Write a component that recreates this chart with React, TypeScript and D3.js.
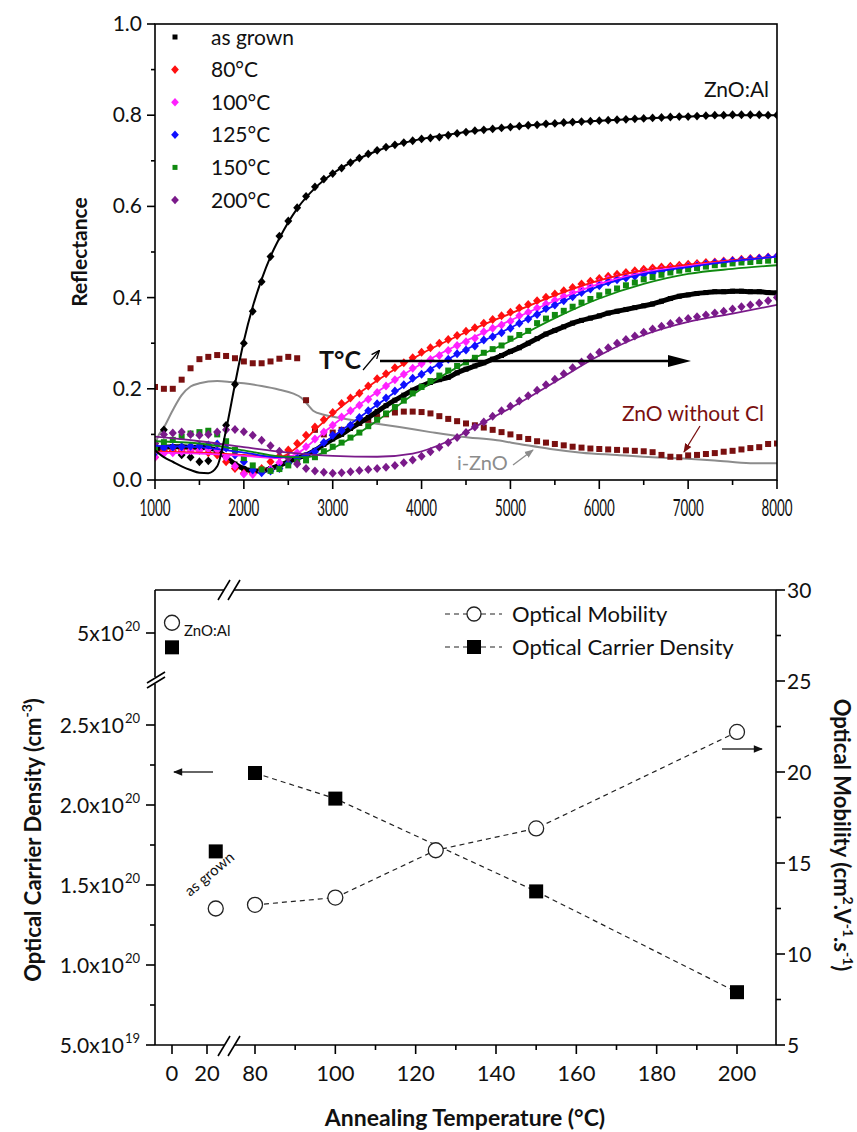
import React from 'react';
import * as d3 from 'd3';

// ---------------- TOP CHART DATA (Reflectance vs wavenumber) ----------------
const wavenumbers = d3.range(1000, 8001, 100);

const znoAlPoints = [
  0.08, 0.11, 0.07, 0.055, 0.05, 0.04, 0.042, 0.06, 0.12, 0.21,
  0.30, 0.37, 0.435, 0.49, 0.535, 0.568, 0.597, 0.622, 0.643, 0.66,
  0.672, 0.684, 0.696, 0.706, 0.715, 0.723, 0.73, 0.735, 0.74, 0.744,
  0.748, 0.75, 0.752, 0.756, 0.76, 0.763, 0.766, 0.768, 0.77, 0.772,
  0.774, 0.776, 0.778, 0.779, 0.781, 0.782, 0.784, 0.785, 0.786, 0.787,
  0.788, 0.789, 0.79, 0.791, 0.792, 0.793, 0.794, 0.795, 0.796, 0.797,
  0.797, 0.798, 0.799, 0.8, 0.8, 0.801, 0.801, 0.801, 0.801, 0.8,
  0.8,
];
const asGrown = [
  0.065, 0.072, 0.073, 0.073, 0.072, 0.072, 0.07, 0.065, 0.05, 0.035,
  0.025, 0.02, 0.02, 0.025, 0.032, 0.04, 0.048, 0.055, 0.065, 0.078,
  0.09, 0.1, 0.113, 0.125, 0.137, 0.15, 0.163, 0.175, 0.186, 0.197,
  0.206, 0.214, 0.22, 0.225, 0.235, 0.243, 0.25, 0.257, 0.265, 0.273,
  0.282, 0.29, 0.3, 0.31, 0.32, 0.328, 0.336, 0.344, 0.35, 0.355,
  0.36, 0.366, 0.37, 0.374, 0.378, 0.382, 0.386, 0.392, 0.398, 0.403,
  0.406, 0.409, 0.411, 0.413, 0.413, 0.414, 0.414, 0.413, 0.413, 0.411,
  0.41,
];
const t80 = [
  0.05, 0.065, 0.065, 0.066, 0.066, 0.065, 0.06, 0.055, 0.04, 0.025,
  0.015, 0.015, 0.025, 0.04, 0.052, 0.066, 0.08, 0.098, 0.116, 0.132,
  0.148, 0.168, 0.18, 0.19, 0.206, 0.222, 0.233, 0.246, 0.257, 0.268,
  0.28, 0.29, 0.3, 0.308, 0.317, 0.326, 0.334, 0.344, 0.352, 0.36,
  0.368, 0.377, 0.385, 0.393, 0.401, 0.408, 0.415, 0.422, 0.43, 0.436,
  0.442, 0.447, 0.451, 0.455, 0.459, 0.462, 0.465, 0.467, 0.469, 0.471,
  0.473, 0.475, 0.477, 0.478, 0.48, 0.482, 0.484, 0.486, 0.487, 0.489,
  0.49,
];
const t100 = [
  0.05, 0.058, 0.06, 0.062, 0.064, 0.065, 0.068, 0.066, 0.05, 0.03,
  0.013, 0.012, 0.018, 0.024, 0.038, 0.05, 0.06, 0.073, 0.09, 0.105,
  0.12, 0.138, 0.152, 0.164, 0.177, 0.192, 0.206, 0.22, 0.232, 0.245,
  0.255, 0.264, 0.273, 0.284, 0.295, 0.303, 0.311, 0.325, 0.333, 0.34,
  0.348, 0.36, 0.368, 0.377, 0.386, 0.394, 0.403, 0.411, 0.419, 0.426,
  0.433, 0.44, 0.443, 0.447, 0.451, 0.455, 0.458, 0.461, 0.464, 0.466,
  0.468, 0.471, 0.473, 0.476, 0.478, 0.48, 0.482, 0.484, 0.486, 0.488,
  0.49,
];
const t125 = [
  0.06, 0.07, 0.072, 0.073, 0.074, 0.075, 0.077, 0.079, 0.07, 0.055,
  0.04, 0.022, 0.016, 0.02, 0.025, 0.037, 0.048, 0.052, 0.062, 0.082,
  0.098, 0.108, 0.12, 0.137, 0.152, 0.167, 0.18, 0.195, 0.209, 0.223,
  0.232, 0.241, 0.252, 0.265, 0.277, 0.285, 0.294, 0.307, 0.314, 0.323,
  0.333, 0.344, 0.353, 0.363, 0.376, 0.384, 0.393, 0.402, 0.411, 0.419,
  0.426, 0.434, 0.439, 0.443, 0.447, 0.451, 0.454, 0.458, 0.461, 0.464,
  0.467, 0.47, 0.473, 0.476, 0.478, 0.48, 0.482, 0.484, 0.486, 0.488,
  0.49,
];
const t150 = [
  0.07, 0.083, 0.088, 0.095, 0.102, 0.105, 0.108, 0.1, 0.085, 0.066,
  0.048, 0.032, 0.023, 0.02, 0.024, 0.032, 0.04, 0.043, 0.05, 0.063,
  0.073, 0.082, 0.093, 0.104, 0.118, 0.132, 0.146, 0.16, 0.174, 0.19,
  0.204, 0.217, 0.229, 0.24, 0.25, 0.258, 0.268, 0.279, 0.287, 0.295,
  0.31, 0.318, 0.327, 0.344, 0.354, 0.362, 0.371, 0.38, 0.389, 0.397,
  0.405, 0.413, 0.42, 0.427, 0.433, 0.44, 0.445, 0.45, 0.455, 0.459,
  0.462, 0.465, 0.468, 0.471, 0.473, 0.475, 0.477, 0.478, 0.48, 0.481,
  0.482,
];
const t200 = [
  0.08, 0.1, 0.103, 0.105, 0.1, 0.098, 0.1, 0.105, 0.11, 0.111,
  0.106, 0.098, 0.087, 0.075, 0.063, 0.048, 0.035, 0.025, 0.02, 0.017,
  0.015, 0.016, 0.018, 0.021, 0.023, 0.025, 0.028, 0.032, 0.038, 0.044,
  0.052, 0.062, 0.072, 0.082, 0.093, 0.104, 0.116, 0.127, 0.14, 0.152,
  0.162, 0.173, 0.185, 0.197, 0.209, 0.221, 0.233, 0.246, 0.259, 0.27,
  0.28, 0.29, 0.3, 0.308, 0.316, 0.324, 0.331, 0.337, 0.343, 0.349,
  0.354, 0.358, 0.362, 0.366, 0.37, 0.375, 0.38, 0.384, 0.388, 0.393,
  0.4,
];
const znoNoCl = [
  0.204, 0.2, 0.2, 0.22, 0.245, 0.265, 0.27, 0.274, 0.272, 0.267,
  0.26, 0.256, 0.256, 0.26, 0.266, 0.27, 0.267, 0.175, 0.11, 0.1,
  0.104, 0.11, 0.117, 0.125, 0.132, 0.138, 0.144, 0.148, 0.15, 0.15,
  0.149, 0.146, 0.14, 0.134, 0.129, 0.124, 0.12, 0.115, 0.11, 0.105,
  0.1, 0.094, 0.09, 0.085, 0.082, 0.079, 0.076, 0.073, 0.071, 0.069,
  0.068, 0.067, 0.066, 0.065, 0.064, 0.063, 0.061, 0.055, 0.051, 0.05,
  0.054, 0.055, 0.057, 0.059, 0.062, 0.064, 0.067, 0.07, 0.072, 0.079,
  0.08,
];

// fitted curves / measured lines: [wavenumber, reflectance]
const iZnOLine: [number, number][] = [
  [1000, 0.07], [1020, 0.088], [1100, 0.115], [1200, 0.153], [1300, 0.186], [1400, 0.205],
  [1500, 0.212], [1700, 0.217], [1850, 0.215], [2000, 0.212], [2200, 0.206], [2400, 0.198],
  [2550, 0.19], [2650, 0.18], [2720, 0.165], [2780, 0.152], [2900, 0.143], [3050, 0.137],
  [3400, 0.126], [3750, 0.116], [4100, 0.105], [4450, 0.095], [4850, 0.087], [5100, 0.079],
  [5450, 0.068], [5800, 0.06], [6200, 0.055], [6600, 0.05], [6950, 0.047], [7300, 0.043],
  [7700, 0.037], [8000, 0.037],
];
const znoAlFit: [number, number][] = [
  [1000, 0.065], [1100, 0.05], [1200, 0.04], [1300, 0.03], [1400, 0.022], [1500, 0.016],
  [1600, 0.015], [1700, 0.03], [1800, 0.11], [1900, 0.21], [2000, 0.305], [2100, 0.38],
  [2200, 0.44], [2300, 0.49], [2400, 0.53], [2600, 0.595], [2800, 0.64], [3000, 0.672],
  [3500, 0.722], [4000, 0.748], [4500, 0.763], [5000, 0.774], [5500, 0.782], [6000, 0.788],
  [6500, 0.793], [7000, 0.797], [7500, 0.8], [8000, 0.8],
];
const fit80: [number, number][] = [
  [1000, 0.062], [1500, 0.06], [2000, 0.055], [2400, 0.05], [2600, 0.072], [2800, 0.11],
  [3000, 0.145], [3500, 0.218], [4000, 0.277], [4500, 0.324], [5000, 0.365], [5500, 0.405],
  [6000, 0.438], [6500, 0.46], [7000, 0.472], [7500, 0.482], [8000, 0.49],
];
const fit100: [number, number][] = [
  [1000, 0.06], [1500, 0.058], [2000, 0.053], [2400, 0.048], [2600, 0.058], [2800, 0.088],
  [3000, 0.12], [3500, 0.193], [4000, 0.255], [4500, 0.305], [5000, 0.35], [5500, 0.393],
  [6000, 0.43], [6500, 0.455], [7000, 0.469], [7500, 0.48], [8000, 0.49],
];
const fit125: [number, number][] = [
  [1000, 0.075], [1500, 0.072], [2000, 0.06], [2400, 0.05], [2600, 0.05], [2800, 0.068],
  [3000, 0.095], [3500, 0.165], [4000, 0.232], [4500, 0.286], [5000, 0.334], [5500, 0.383],
  [6000, 0.425], [6500, 0.452], [7000, 0.467], [7500, 0.48], [8000, 0.49],
];
const fit150: [number, number][] = [
  [1000, 0.085], [1500, 0.08], [2000, 0.065], [2400, 0.052], [2700, 0.05], [2900, 0.06],
  [3100, 0.08], [3500, 0.13], [4000, 0.2], [4500, 0.258], [5000, 0.305], [5500, 0.355],
  [6000, 0.398], [6500, 0.43], [7000, 0.452], [7500, 0.463], [8000, 0.471],
];
const fit200: [number, number][] = [
  [1000, 0.095], [1500, 0.085], [2000, 0.072], [2500, 0.06], [3000, 0.053], [3500, 0.051],
  [3900, 0.058], [4300, 0.085], [4700, 0.127], [5000, 0.158], [5500, 0.215], [6000, 0.273],
  [6500, 0.318], [7000, 0.347], [7500, 0.365], [8000, 0.384],
];

const legendLabels = ['as grown', '80°C', '100°C', '125°C', '150°C', '200°C'];
const legendColors = ['#000000', '#ff1010', '#ff20ff', '#1010ff', '#108a10', '#7a1a8a'];
const legendShapes = ['square', 'diamond', 'diamond', 'diamond', 'square', 'diamond'];

const topXTicks = [1000, 2000, 3000, 4000, 5000, 6000, 7000, 8000];
const topXMinor = [1500, 2500, 3500, 4500, 5500, 6500, 7500];
const topYTicks = [0, 0.2, 0.4, 0.6, 0.8, 1.0];
const topYMinor = [0.1, 0.3, 0.5, 0.7, 0.9];

// ---------------- BOTTOM CHART DATA ----------------
const carrierTemps = [0, 25, 80, 100, 150, 200];
const carrierValues = [4.91e20, 1.71e20, 2.2e20, 2.04e20, 1.46e20, 0.83e20];
const mobilityTemps = [0, 25, 80, 100, 125, 150, 200];
const mobilityValues = [28.2, 12.5, 12.7, 13.1, 15.7, 16.9, 22.2];

const botXTicksLeft = [0, 20];
const botXTicksRight = [80, 100, 120, 140, 160, 180, 200];
const botXMinorRight = [90, 110, 130, 150, 170, 190];
const carrierTicks = [5e19, 1e20, 1.5e20, 2e20, 2.5e20];
const carrierTickMantissa = ['5.0', '1.0', '1.5', '2.0', '2.5'];
const carrierTickExp = ['19', '20', '20', '20', '20'];
const carrierMinor = [7.5e19, 1.25e20, 1.75e20, 2.25e20];
const carrierUpperTick = 5e20;
const mobilityTicks = [5, 10, 15, 20, 25, 30];
const mobilityMinor = [7.5, 12.5, 17.5, 22.5, 27.5];

const FONT = "Lato, 'Open Sans', 'DejaVu Sans', sans-serif";

export default function App() {
  // top scales
  const xT = d3.scaleLinear().domain([1000, 8000]).range([155, 777]);
  const yT = d3.scaleLinear().domain([0, 1]).range([480, 24]);

  // bottom scales
  const xBL = d3.scaleLinear().domain([0, 20]).range([172, 207]);
  const xBR = d3.scaleLinear().domain([80, 200]).range([255, 737]);
  const xB = (t: number) => (t < 50 ? xBL(t) : xBR(t));
  const yCLow = d3.scaleLinear().domain([5e19, 2.5e20]).range([1045, 725]);
  const yCHigh = d3.scaleLinear().domain([5e20, 5.27e20]).range([633, 590]);
  const yC = (v: number) => (v > 3e20 ? yCHigh(v) : yCLow(v));
  const yM = d3.scaleLinear().domain([5, 30]).range([1045, 590]);

  const seriesLine = (vals: number[]) =>
    d3.line<number>().x((_, i) => xT(wavenumbers[i])).y((v) => yT(v)).curve(d3.curveMonotoneX)(vals) || '';
  const pairLine = (pts: [number, number][]) =>
    d3.line<[number, number]>().x((d) => xT(d[0])).y((d) => yT(d[1])).curve(d3.curveMonotoneX)(pts) || '';

  const diamond = (cx: number, cy: number, r: number, color: string, key: string) => (
    <path key={key} d={`M${cx},${cy - r}L${cx + r * 0.9},${cy}L${cx},${cy + r}L${cx - r * 0.9},${cy}Z`} fill={color} />
  );
  const square = (cx: number, cy: number, s: number, color: string, key: string) => (
    <rect key={key} x={cx - s / 2} y={cy - s / 2} width={s} height={s} fill={color} />
  );

  const markers = (vals: number[], shape: string, color: string, size: number, id: string) =>
    vals.map((v, i) =>
      shape === 'diamond'
        ? diamond(xT(wavenumbers[i]), yT(v), size, color, `${id}${i}`)
        : square(xT(wavenumbers[i]), yT(v), size, color, `${id}${i}`)
    );

  // bottom lines (only annealed samples connected)
  const mobConn = mobilityTemps.map((t, i) => [t, mobilityValues[i]] as [number, number]).filter((d) => d[0] >= 80);
  const carConn = carrierTemps.map((t, i) => [t, carrierValues[i]] as [number, number]).filter((d) => d[0] >= 80);
  const mobPath = d3.line<[number, number]>().x((d) => xB(d[0])).y((d) => yM(d[1]))(mobConn) || '';
  const carPath = d3.line<[number, number]>().x((d) => xB(d[0])).y((d) => yC(d[1]))(carConn) || '';

  const ax = { stroke: '#000', strokeWidth: 1.6, fill: 'none' } as const;

  return (
    <svg
      width={857}
      height={1132}
      style={{ position: 'absolute', left: 0, top: 0, background: '#fff' }}
      fontFamily={FONT}
    >
      <defs>
        <marker id="ahBlack" viewBox="0 0 10 10" refX="9" refY="5" markerWidth="7" markerHeight="7" orient="auto">
          <path d="M0,1 L10,5 L0,9" fill="none" stroke="#000" strokeWidth="1.5" />
        </marker>
        <marker id="ahRed" viewBox="0 0 10 10" refX="9" refY="5" markerWidth="7" markerHeight="7" orient="auto">
          <path d="M0,1 L10,5 L0,9 Z" fill="#7a1010" />
        </marker>
        <marker id="ahGray" viewBox="0 0 10 10" refX="9" refY="5" markerWidth="7" markerHeight="7" orient="auto">
          <path d="M0,1 L10,5 L0,9 Z" fill="#8c8c8c" />
        </marker>
        <marker id="ahFill" viewBox="0 0 10 10" refX="9" refY="5" markerWidth="9" markerHeight="7" orient="auto">
          <path d="M0,1 L10,5 L0,9 Z" fill="#111" />
        </marker>
        <clipPath id="topClip">
          <rect x={155} y={24} width={622} height={456} />
        </clipPath>
      </defs>

      {/* ================= TOP CHART ================= */}
      <g clipPath="url(#topClip)">
        <path d={pairLine(iZnOLine)} fill="none" stroke="#8c8c8c" strokeWidth={2} />
        {markers(znoNoCl, 'square', '#7a1010', 6, 'nc')}
        {markers(znoAlPoints, 'diamond', '#000', 4.4, 'al')}
        <path d={seriesLine(asGrown)} fill="none" stroke="#000" strokeWidth={5} />
        {markers(asGrown, 'square', '#000', 5, 'ag')}
        {markers(t80, 'diamond', legendColors[1], 4.5, 'r')}
        {markers(t100, 'diamond', legendColors[2], 4.5, 'm')}
        {markers(t125, 'diamond', legendColors[3], 4.5, 'b')}
        {markers(t150, 'square', legendColors[4], 6, 'g')}
        {markers(t200, 'diamond', legendColors[5], 4.5, 'p')}
        <path d={pairLine(fit80)} fill="none" stroke={legendColors[1]} strokeWidth={1.8} />
        <path d={pairLine(fit100)} fill="none" stroke={legendColors[2]} strokeWidth={1.8} />
        <path d={pairLine(fit125)} fill="none" stroke={legendColors[3]} strokeWidth={1.8} />
        <path d={pairLine(fit150)} fill="none" stroke={legendColors[4]} strokeWidth={1.8} />
        <path d={pairLine(fit200)} fill="none" stroke={legendColors[5]} strokeWidth={1.8} />
        <path d={pairLine(znoAlFit)} fill="none" stroke="#000" strokeWidth={2} />
      </g>

      {/* top frame */}
      <rect x={155} y={24} width={622} height={456} {...ax} />
      {topXTicks.map((t) => (
        <g key={`tx${t}`}>
          <line x1={xT(t)} x2={xT(t)} y1={480} y2={489} stroke="#000" strokeWidth={1.6} />
          <text x={xT(t)} y={516} textAnchor="middle" fontSize={23} textLength={31} lengthAdjust="spacingAndGlyphs" fill="#111">
            {t}
          </text>
        </g>
      ))}
      {topXMinor.map((t) => (
        <line key={`txm${t}`} x1={xT(t)} x2={xT(t)} y1={480} y2={485} stroke="#000" strokeWidth={1.6} />
      ))}
      {topYTicks.map((t) => (
        <g key={`ty${t}`}>
          <line x1={147} x2={155} y1={yT(t)} y2={yT(t)} stroke="#000" strokeWidth={1.6} />
          <text x={142} y={yT(t) + 7} textAnchor="end" fontSize={21} fill="#111">
            {t.toFixed(1)}
          </text>
        </g>
      ))}
      {topYMinor.map((t) => (
        <line key={`tym${t}`} x1={151} x2={155} y1={yT(t)} y2={yT(t)} stroke="#000" strokeWidth={1.6} />
      ))}
      <text transform="translate(87,252) rotate(-90)" textAnchor="middle" fontSize={21} fontWeight="bold" fill="#111">
        Reflectance
      </text>

      {/* legend top */}
      {legendLabels.map((lab, i) => {
        const cy = 37 + i * 32.6;
        return (
          <g key={`lg${i}`}>
            {legendShapes[i] === 'diamond'
              ? diamond(175, cy, 4.3, legendColors[i], `ld${i}`)
              : square(175, cy, 5, legendColors[i], `ls${i}`)}
            <text x={211} y={cy + 7.5} fontSize={21} fill="#111">
              {lab}
            </text>
          </g>
        );
      })}

      {/* annotations top */}
      <text x={704} y={97} fontSize={21} fill="#111">ZnO:Al</text>
      <text x={319} y={369} fontSize={25} fontWeight="bold" fill="#111">T°C</text>
      <line x1={363} y1={370} x2={379} y2={351} stroke="#000" strokeWidth={1.2} markerEnd="url(#ahBlack)" />
      <line x1={380} y1={361} x2={672} y2={361} stroke="#000" strokeWidth={2.6} />
      <path d="M668,355 L691,361 L668,367 Z" fill="#000" />
      <text x={622} y={421} fontSize={21} fill="#7a1010">ZnO without Cl</text>
      <line x1={700} y1={426} x2={684} y2={452} stroke="#7a1010" strokeWidth={1.3} markerEnd="url(#ahRed)" />
      <text x={457} y={470} fontSize={20} fill="#8c8c8c">i-ZnO</text>
      <line x1={513} y1={465} x2={533} y2={450} stroke="#8c8c8c" strokeWidth={1.3} markerEnd="url(#ahGray)" />

      {/* ================= BOTTOM CHART ================= */}
      <line x1={155} y1={590} x2={224} y2={590} {...ax} />
      <line x1={234} y1={590} x2={776} y2={590} {...ax} />
      <line x1={155} y1={1045} x2={224} y2={1045} {...ax} />
      <line x1={234} y1={1045} x2={776} y2={1045} {...ax} />
      <line x1={155} y1={590} x2={155} y2={677} {...ax} />
      <line x1={155} y1={684} x2={155} y2={1045} {...ax} />
      <line x1={776} y1={590} x2={776} y2={1045} {...ax} />
      <line x1={147} y1={688} x2={165} y2={677} stroke="#000" strokeWidth={1.6} />
      <line x1={147} y1={683} x2={165} y2={672} stroke="#000" strokeWidth={1.6} />
      <line x1={218} y1={600} x2={230} y2={580} stroke="#000" strokeWidth={1.6} />
      <line x1={228} y1={600} x2={240} y2={580} stroke="#000" strokeWidth={1.6} />
      <line x1={218} y1={1056} x2={230} y2={1036} stroke="#000" strokeWidth={1.6} />
      <line x1={228} y1={1056} x2={240} y2={1036} stroke="#000" strokeWidth={1.6} />

      {botXTicksLeft.map((t) => (
        <g key={`bxl${t}`}>
          <line x1={xBL(t)} x2={xBL(t)} y1={1045} y2={1054} stroke="#000" strokeWidth={1.6} />
          <text x={xBL(t)} y={1081} textAnchor="middle" fontSize={22} fill="#111">{t}</text>
        </g>
      ))}
      {botXTicksRight.map((t) => (
        <g key={`bxr${t}`}>
          <line x1={xBR(t)} x2={xBR(t)} y1={1045} y2={1054} stroke="#000" strokeWidth={1.6} />
          <text x={xBR(t)} y={1081} textAnchor="middle" fontSize={22} fill="#111">{t}</text>
        </g>
      ))}
      {botXMinorRight.map((t) => (
        <line key={`bxm${t}`} x1={xBR(t)} x2={xBR(t)} y1={1045} y2={1050} stroke="#000" strokeWidth={1.6} />
      ))}
      <text x={465} y={1126} textAnchor="middle" fontSize={23} fontWeight="bold" fill="#111">
        Annealing Temperature (°C)
      </text>

      {carrierTicks.map((v, i) => (
        <g key={`cy${i}`}>
          <line x1={146} x2={155} y1={yCLow(v)} y2={yCLow(v)} stroke="#000" strokeWidth={1.6} />
          <text x={124} y={yCLow(v) + 8} textAnchor="end" fontSize={21} fill="#111">
            {carrierTickMantissa[i]}x10
          </text>
          <text x={125} y={yCLow(v) - 2} textAnchor="start" fontSize={13} fill="#111">
            {carrierTickExp[i]}
          </text>
        </g>
      ))}
      {carrierMinor.map((v) => (
        <line key={`cym${v}`} x1={150} x2={155} y1={yCLow(v)} y2={yCLow(v)} stroke="#000" strokeWidth={1.6} />
      ))}
      <line x1={146} x2={155} y1={yCHigh(carrierUpperTick)} y2={yCHigh(carrierUpperTick)} stroke="#000" strokeWidth={1.6} />
      <text x={124} y={yCHigh(carrierUpperTick) + 8} textAnchor="end" fontSize={21} fill="#111">5x10</text>
      <text x={125} y={yCHigh(carrierUpperTick) - 2} fontSize={13} fill="#111">20</text>

      {mobilityTicks.map((v) => (
        <g key={`my${v}`}>
          <line x1={776} x2={785} y1={yM(v)} y2={yM(v)} stroke="#000" strokeWidth={1.6} />
          <text x={787} y={yM(v) + 8} fontSize={21} fill="#111">{v}</text>
        </g>
      ))}
      {mobilityMinor.map((v) => (
        <line key={`mym${v}`} x1={776} x2={781} y1={yM(v)} y2={yM(v)} stroke="#000" strokeWidth={1.6} />
      ))}

      <text transform="translate(41,840) rotate(-90)" textAnchor="middle" fontSize={22} fontWeight="bold" fill="#111">
        Optical Carrier Density (cm
        <tspan dy={-9} fontSize={14}>-3</tspan>
        <tspan dy={9}>)</tspan>
      </text>
      <text transform="translate(834,835) rotate(90)" textAnchor="middle" fontSize={22} fontWeight="bold" fill="#111">
        Optical Mobility (cm
        <tspan dy={-9} fontSize={14}>2</tspan>
        <tspan dy={9}>.V</tspan>
        <tspan dy={-9} fontSize={14}>-1</tspan>
        <tspan dy={9}>.s</tspan>
        <tspan dy={-9} fontSize={14}>-1</tspan>
        <tspan dy={9}>)</tspan>
      </text>

      <path d={mobPath} fill="none" stroke="#222" strokeWidth={1.2} strokeDasharray="5,4" />
      <path d={carPath} fill="none" stroke="#222" strokeWidth={1.2} strokeDasharray="5,4" />
      {carrierTemps.map((t, i) => (
        <rect key={`cs${i}`} x={xB(t) - 7} y={yC(carrierValues[i]) - 7} width={14} height={14} fill="#000" />
      ))}
      {mobilityTemps.map((t, i) => (
        <circle key={`mc${i}`} cx={xB(t)} cy={yM(mobilityValues[i])} r={7.5} fill="#fff" stroke="#222" strokeWidth={1.3} />
      ))}

      <text x={184} y={636} fontSize={15} fill="#111">ZnO:Al</text>
      <text transform="translate(190,897) rotate(-40)" fontSize={15} fill="#111">as grown</text>
      <line x1={213} y1={772} x2={174} y2={772} stroke="#333" strokeWidth={1.3} markerEnd="url(#ahFill)" />
      <line x1={722} y1={749} x2={762} y2={749} stroke="#333" strokeWidth={1.3} markerEnd="url(#ahFill)" />

      <line x1={445} x2={502} y1={614} y2={614} stroke="#222" strokeWidth={1.2} strokeDasharray="5,4" />
      <circle cx={474} cy={614} r={7} fill="#fff" stroke="#222" strokeWidth={1.3} />
      <text x={512} y={622} fontSize={22} fill="#111">Optical Mobility</text>
      <line x1={445} x2={502} y1={647} y2={647} stroke="#222" strokeWidth={1.2} strokeDasharray="5,4" />
      <rect x={467} y={640} width={14} height={14} fill="#000" />
      <text x={512} y={655} fontSize={22} fill="#111">Optical Carrier Density</text>
    </svg>
  );
}
